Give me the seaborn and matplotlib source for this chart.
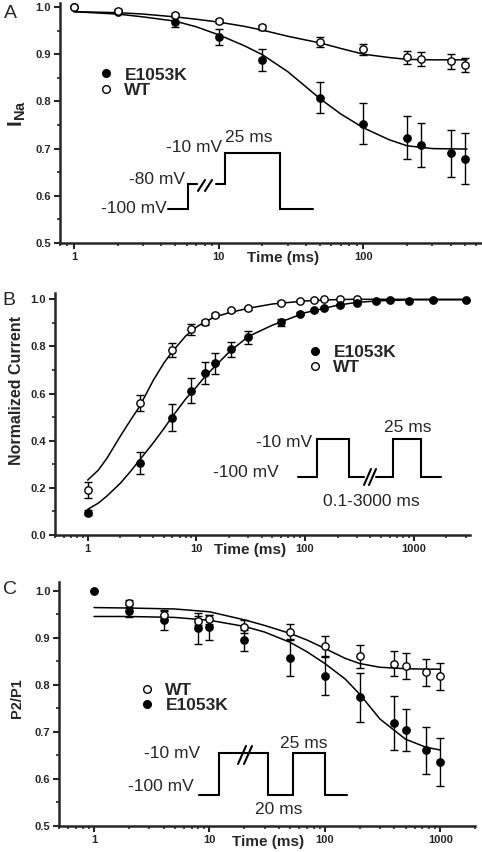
import matplotlib
matplotlib.use('Agg')
import matplotlib.pyplot as plt
import matplotlib.ticker as ticker
from matplotlib.lines import Line2D
import seaborn as sns

sns.set_style('ticks')
plt.rcParams['font.family'] = ['Liberation Sans', 'DejaVu Sans']
plt.rcParams['mathtext.fontset'] = 'custom'
plt.rcParams['mathtext.bf'] = 'Liberation Sans:bold'
plt.rcParams['mathtext.rm'] = 'Liberation Sans'

W, H = 482, 852

# --- panel A: development of slow inactivation ---
a_time = [1, 2, 5, 10, 20, 50, 100, 200, 250, 400, 500]
a_wt = [1.0, 0.992, 0.983, 0.970, 0.957, 0.925, 0.910, 0.893, 0.889, 0.885, 0.877]
a_wt_err = [0, 0.003, 0.004, 0.004, 0.005, 0.0105, 0.012, 0.014, 0.015, 0.016, 0.015]
a_mut = [1.0, 0.990, 0.968, 0.937, 0.888, 0.808, 0.753, 0.723, 0.707, 0.690, 0.679]
a_mut_err = [0, 0.003, 0.011, 0.017, 0.024, 0.033, 0.043, 0.045, 0.047, 0.050, 0.054]
a_fit_time = [1, 2, 3, 5, 7, 10, 15, 20, 30, 40, 50, 70, 100, 150, 200, 300, 520]
a_wt_fit = [0.990, 0.988, 0.985, 0.979, 0.974, 0.968, 0.959, 0.951, 0.938, 0.930,
            0.924, 0.912, 0.900, 0.893, 0.889, 0.888, 0.888]
a_mut_fit = [0.990, 0.985, 0.979, 0.970, 0.958, 0.941, 0.918, 0.899, 0.863, 0.831,
             0.806, 0.773, 0.744, 0.719, 0.706, 0.700, 0.699]

# --- panel B: recovery from inactivation ---
b_wt_time = [1, 3, 6, 9, 12, 15, 21, 30, 60, 90, 120, 150, 210, 300]
b_wt = [0.191, 0.559, 0.785, 0.873, 0.902, 0.935, 0.953, 0.962, 0.986, 0.994,
        0.997, 1.0, 1.0, 1.0]
b_wt_err = [0.032, 0.035, 0.03, 0.023, 0.01, 0.008, 0.007, 0.007, 0.006, 0.004,
            0.003, 0.003, 0.003, 0.003]
b_mut_time = [1, 3, 6, 9, 12, 15, 21, 30, 60, 90, 120, 150, 210, 300, 450, 600, 900, 1500, 3000]
b_mut = [0.095, 0.304, 0.498, 0.612, 0.689, 0.728, 0.788, 0.839, 0.902, 0.938,
         0.955, 0.962, 0.976, 0.983, 0.994, 0.997, 0.994, 0.997, 0.995]
b_mut_err = [0.012, 0.047, 0.057, 0.053, 0.047, 0.044, 0.032, 0.028, 0.014, 0.006,
             0.005, 0.005, 0.005, 0.004, 0.004, 0.003, 0.003, 0.003, 0.003]
b_fit_time = [1, 1.25, 1.5, 2, 2.5, 3, 4, 5, 6, 8, 10, 12, 15, 20, 30, 50, 100,
              200, 300, 500, 1000, 3000]
b_wt_fit = [0.233, 0.275, 0.325, 0.420, 0.490, 0.545, 0.655, 0.728, 0.778, 0.845,
            0.882, 0.905, 0.926, 0.943, 0.962, 0.980, 0.993, 0.999, 1.0, 1.0, 1.0, 1.0]
b_mut_fit = [0.109, 0.135, 0.165, 0.220, 0.272, 0.318, 0.390, 0.450, 0.502, 0.578,
             0.628, 0.672, 0.718, 0.776, 0.842, 0.890, 0.943, 0.975, 0.987, 0.994,
             0.998, 0.998]

# --- panel C: use-dependent P2/P1 ---
c_wt_time = [2, 4, 8, 10, 20, 50, 100, 200, 400, 500, 750, 1000]
c_wt = [0.973, 0.948, 0.936, 0.939, 0.923, 0.913, 0.882, 0.860, 0.845, 0.840, 0.826, 0.818]
c_wt_err = [0.007, 0.008, 0.01, 0.01, 0.014, 0.016, 0.021, 0.025, 0.026, 0.027, 0.029, 0.029]
c_mut_time = [1, 2, 4, 8, 10, 20, 50, 100, 200, 400, 500, 750, 1000]
c_mut = [1.0, 0.957, 0.938, 0.920, 0.922, 0.894, 0.856, 0.818, 0.773, 0.719, 0.704, 0.660, 0.635]
c_mut_err = [0, 0.013, 0.021, 0.033, 0.026, 0.022, 0.038, 0.041, 0.052, 0.057, 0.045, 0.05, 0.051]
c_fit_time = [1, 2, 5, 10, 20, 30, 50, 70, 100, 150, 200, 300, 500, 750, 1000]
c_wt_fit = [0.964, 0.963, 0.961, 0.955, 0.938, 0.926, 0.909, 0.895, 0.877, 0.856,
            0.845, 0.837, 0.834, 0.833, 0.833]
c_mut_fit = [0.945, 0.945, 0.943, 0.937, 0.924, 0.912, 0.890, 0.870, 0.845, 0.812,
             0.780, 0.727, 0.684, 0.667, 0.661]

fig = plt.figure(figsize=(W / 100, H / 100), dpi=100)


def px_axes(left, top, right, bottom):
    return fig.add_axes([left / W, 1 - bottom / H, (right - left) / W, (bottom - top) / H])


def style(ax, xlim, ylim, ystep, xmajor):
    ax.set_xscale('log')
    ax.set_xlim(xlim)
    ax.set_ylim(ylim)
    sns.despine(ax=ax)
    for s in ['left', 'bottom']:
        ax.spines[s].set_linewidth(1.8)
    ax.xaxis.set_major_locator(ticker.FixedLocator(xmajor))
    ax.xaxis.set_major_formatter(ticker.FixedFormatter([str(v) for v in xmajor]))
    ax.xaxis.set_minor_locator(ticker.LogLocator(base=10, subs=range(2, 10), numticks=20))
    ax.xaxis.set_minor_formatter(ticker.NullFormatter())
    ax.yaxis.set_major_locator(ticker.MultipleLocator(ystep))
    ax.yaxis.set_minor_locator(ticker.MultipleLocator(ystep / 2))
    ax.yaxis.set_major_formatter(ticker.FormatStrFormatter('%.1f'))
    ax.tick_params(which='major', direction='out', length=4.5, width=1.5, pad=2, labelsize=8)
    ax.tick_params(which='minor', direction='out', length=2.5, width=1.2)
    for lab in ax.get_xticklabels() + ax.get_yticklabels():
        lab.set_fontweight('bold')


def draw_series(ax, t, y, err, filled):
    ax.errorbar(t, y, yerr=err, fmt='none', ecolor='black', elinewidth=1.0,
                capsize=3, capthick=1.0, zorder=3)
    sns.scatterplot(x=t, y=y, ax=ax, color='black' if filled else 'white',
                    edgecolor='black', linewidth=1.0, s=28, zorder=4, legend=False)


def draw_fit(ax, t, y):
    sns.lineplot(x=t, y=y, ax=ax, color='black', linewidth=1.1, estimator=None,
                 zorder=2, legend=False)


def add_legend(ax, order, x, y):
    filled = Line2D([], [], marker='o', ls='none', mfc='black', mec='black', ms=5.5)
    hollow = Line2D([], [], marker='o', ls='none', mfc='white', mec='black', mew=1.0, ms=5.5)
    hmap = {'E1053K': filled, 'WT': hollow}
    ax.legend([hmap[k] for k in order], order, loc='center left',
              bbox_to_anchor=(x / W, 1 - y / H), bbox_transform=fig.transFigure,
              frameon=False, prop={'weight': 'bold', 'size': 12.5}, handlelength=0.6,
              handletextpad=0.75, labelspacing=0.0, borderpad=0, borderaxespad=0)


def labels(ax, ylab, ylab_xy, ylab_size, xlab_xy):
    ax.set_ylabel(ylab, fontsize=ylab_size, fontweight='bold', va='center', ha='center')
    ax.yaxis.set_label_coords(ylab_xy[0] / W, 1 - ylab_xy[1] / H, transform=fig.transFigure)
    ax.set_xlabel('Time (ms)', fontsize=11, fontweight='bold', va='center', ha='center')
    ax.xaxis.set_label_coords(xlab_xy[0] / W, 1 - xlab_xy[1] / H, transform=fig.transFigure)


# Panel A
axA = px_axes(60, 3.2, 482, 243)
style(axA, (0.8, 660), (0.5, 1.008), 0.1, [1, 10, 100])
draw_fit(axA, a_fit_time, a_wt_fit)
draw_fit(axA, a_fit_time, a_mut_fit)
draw_series(axA, a_time, a_mut, a_mut_err, True)
draw_series(axA, a_time, a_wt, a_wt_err, False)
add_legend(axA, ['E1053K', 'WT'], 101, 82.5)
labels(axA, r'$\mathbf{I}_{\mathbf{Na}}$', (17, 114), 15, (283, 258))

# Panel B
axB = px_axes(55, 292.7, 470, 535)
style(axB, (0.5, 3300), (0.0, 1.028), 0.2, [1, 10, 100, 1000])
draw_fit(axB, b_fit_time, b_wt_fit)
draw_fit(axB, b_fit_time, b_mut_fit)
draw_series(axB, b_wt_time, b_wt, b_wt_err, False)
draw_series(axB, b_mut_time, b_mut, b_mut_err, True)
add_legend(axB, ['E1053K', 'WT'], 310, 360)
labels(axB, 'Normalized Current', (17, 390), 11.5, (250, 550))

# Panel C
axC = px_axes(59.3, 581.7, 475, 825.7)
style(axC, (0.5, 2000), (0.5, 1.019), 0.1, [1, 10, 100, 1000])
draw_fit(axC, c_fit_time, c_wt_fit)
draw_fit(axC, c_fit_time, c_mut_fit)
draw_series(axC, c_mut_time, c_mut, c_mut_err, True)
draw_series(axC, c_wt_time, c_wt, c_wt_err, False)
add_legend(axC, ['WT', 'E1053K'], 142, 698)
labels(axC, 'P2/P1', (17, 698), 10.5, (268, 842))

# overlay in pixel coordinates for panel letters and the pulse protocols
ov = fig.add_axes([0, 0, 1, 1])
ov.set_xlim(0, W)
ov.set_ylim(H, 0)
ov.axis('off')
ov.patch.set_alpha(0)

for letter, (x, y) in {'A': (10, 14), 'B': (8.5, 300.5), 'C': (10, 590)}.items():
    ov.text(x, y, letter, fontsize=14, ha='center', va='center')

pulse_kw = dict(color='black', lw=1.5, solid_joinstyle='miter')
txt_kw = dict(fontsize=12.5, va='center')

# A protocol
ov.plot([168, 188, 188, 197], [209.3, 209.3, 184.3, 184.3], **pulse_kw)
ov.plot([216, 225, 225, 280, 280, 313], [184.3, 184.3, 153.3, 153.3, 209.3, 209.3], **pulse_kw)
ov.plot([198, 205], [191, 180], **pulse_kw)
ov.plot([205, 212], [191, 180], **pulse_kw)
ov.text(167, 208.7, '-100 mV', ha='right', **txt_kw)
ov.text(185, 180, '-80 mV', ha='right', **txt_kw)
ov.text(222, 148, '-10 mV', ha='right', **txt_kw)
ov.text(225, 137, '25 ms', ha='left', **txt_kw)

# B protocol
ov.plot([297.7, 317.3, 317.3, 349.3, 349.3, 364], [477.3, 477.3, 439.3, 439.3, 477.3, 477.3], **pulse_kw)
ov.plot([376, 392.7, 392.7, 420.7, 420.7, 440.7], [477.3, 477.3, 439.3, 439.3, 477.3, 477.3], **pulse_kw)
ov.plot([364, 371], [485, 469], **pulse_kw)
ov.plot([369, 376], [485, 469], **pulse_kw)
ov.text(311.7, 442.3, '-10 mV', ha='right', **txt_kw)
ov.text(278.3, 472.7, '-100 mV', ha='right', **txt_kw)
ov.text(408, 427.3, '25 ms', ha='center', **txt_kw)
ov.text(371.7, 501, '0.1-3000 ms', ha='center', **txt_kw)

# C protocol
ov.plot([199.3, 219.3, 219.3, 267.7, 267.7, 293.3, 293.3, 325, 325, 346.7],
        [795, 795, 753.3, 753.3, 795, 795, 753.3, 753.3, 795, 795], **pulse_kw)
ov.plot([238, 246], [764, 746], **pulse_kw)
ov.plot([244, 252], [764, 746], **pulse_kw)
ov.text(200, 753.3, '-10 mV', ha='right', **txt_kw)
ov.text(193.3, 786.7, '-100 mV', ha='right', **txt_kw)
ov.text(303.3, 743.3, '25 ms', ha='center', **txt_kw)
ov.text(278.3, 810, '20 ms', ha='center', **txt_kw)

fig.savefig('out.png', dpi=100)
